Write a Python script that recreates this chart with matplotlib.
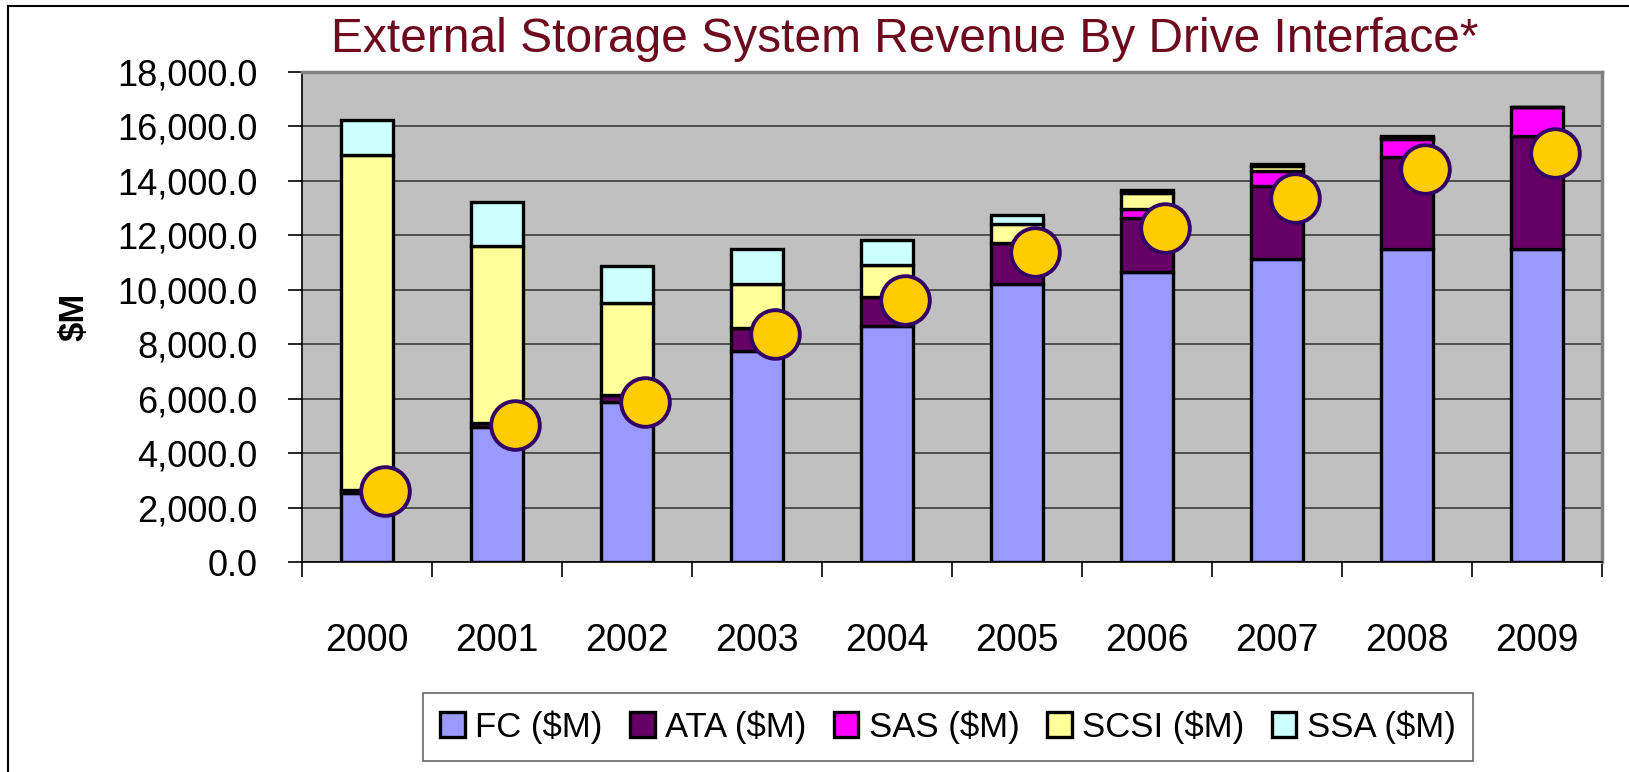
"""External Storage System Revenue By Drive Interface - stacked bars."""

import matplotlib

matplotlib.use("Agg")
import matplotlib.pyplot as plt
import numpy as np
from matplotlib.patches import Rectangle
from matplotlib.ticker import FuncFormatter

plt.rcParams["font.family"] = ["Liberation Sans", "DejaVu Sans"]

# ---------------------------------------------------------------------------
# data ($M)
# ---------------------------------------------------------------------------
years = ["2000", "2001", "2002", "2003", "2004", "2005", "2006", "2007", "2008", "2009"]
fc = [2550, 4950, 5880, 7750, 8680, 10200, 10640, 11120, 11490, 11490]
ata = [100, 150, 250, 830, 1040, 1510, 2010, 2700, 3370, 4170]
sas = [0, 0, 0, 0, 0, 0, 330, 550, 670, 1040]
scsi = [12310, 6520, 3370, 1620, 1190, 710, 570, 180, 60, 0]
ssa = [1290, 1600, 1390, 1290, 910, 330, 130, 80, 50, 0]
markers = [2600, 5030, 5890, 8360, 9620, 11380, 12260, 13360, 14430, 15040]

series_names = ["FC ($M)", "ATA ($M)", "SAS ($M)", "SCSI ($M)", "SSA ($M)"]
series_colors = ["#9999FF", "#660066", "#FF00FF", "#FFFF99", "#CCFFFF"]

W, H = 1629, 772
fig = plt.figure(figsize=(W / 100, H / 100), dpi=100)
ax = fig.add_axes([302 / W, 1 - 562 / H, (1602 - 302) / W, (562 - 72) / H])
ax.set_facecolor("#C0C0C0")

x = np.arange(len(years))
bottom = np.zeros(len(years))
handles = []
for vals, name, col in zip([fc, ata, sas, scsi, ssa], series_names, series_colors):
    b = ax.bar(x, vals, 0.4, bottom=bottom, color=col, edgecolor="black",
               linewidth=2.4, label=name, zorder=3)
    handles.append(b)
    bottom += np.array(vals)

ax.plot(x + 0.14, markers, linestyle="none", marker="o", markersize=35,
        markerfacecolor="#FFCC00", markeredgecolor="#330066",
        markeredgewidth=2.8, zorder=5)

ax.set_xlim(-0.5, len(years) - 0.5)
ax.set_ylim(0, 18000)
ax.set_yticks(np.arange(0, 18001, 2000))
ax.yaxis.set_major_formatter(FuncFormatter(lambda v, _: f"{v:,.1f}"))
ax.grid(axis="y", color="#303030", linewidth=1.1, zorder=1)
ax.set_axisbelow(True)

ax.set_xticks(x)
ax.set_xticklabels(years)
ax.set_xticks(np.arange(-0.5, len(years)), minor=True)
ax.tick_params(axis="x", which="major", length=0, pad=44, labelsize=27)
ax.tick_params(axis="x", which="minor", length=11, width=1.2, color="black")
ax.tick_params(axis="y", length=10, width=1.2, pad=22, labelsize=26)

for s in ["left", "bottom"]:
    ax.spines[s].set_color("black")
    ax.spines[s].set_linewidth(1.2)
for s in ["top", "right"]:
    ax.spines[s].set_color("#808080")
    ax.spines[s].set_linewidth(2.5)

fig.text(74 / W, 1 - 317 / H, "$M", rotation=90, fontsize=25, fontweight="bold",
         ha="center", va="center")
fig.text(905 / W, 1 - 40 / H, "External Storage System Revenue By Drive Interface*",
         fontsize=34.5, color="#6E0A1E", ha="center", va="center")

leg = fig.legend(handles=handles, labels=series_names, loc="center",
                 bbox_to_anchor=(948 / W, 1 - 727 / H), ncol=5, fontsize=25,
                 frameon=True, fancybox=False, handlelength=0.7, handleheight=0.7,
                 handletextpad=0.3, columnspacing=0.8, borderpad=0.5)
leg.get_frame().set_edgecolor("#404040")
leg.get_frame().set_linewidth(1.2)

fig.add_artist(Rectangle((8 / W, -0.1), 1.2, 1.1 - 6 / H, transform=fig.transFigure,
                         facecolor="none", edgecolor="black", linewidth=1.5))

fig.savefig("out.png", dpi=100)
